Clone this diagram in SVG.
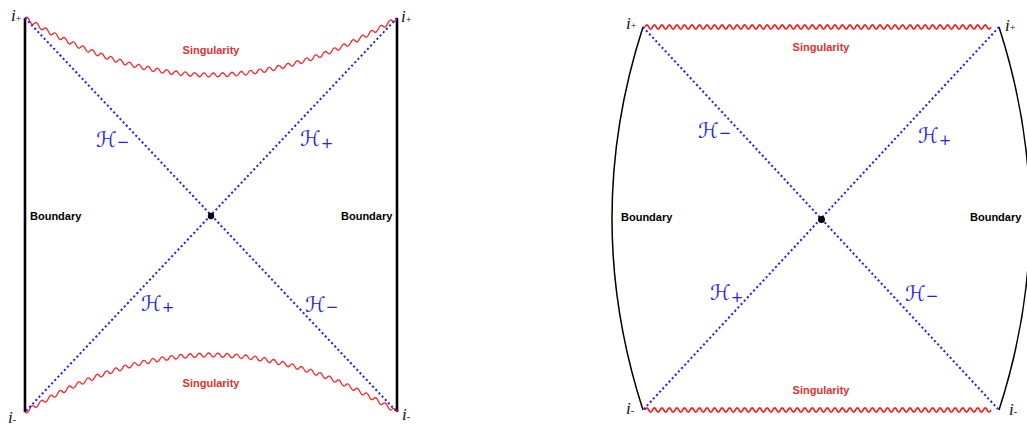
<svg xmlns="http://www.w3.org/2000/svg" xmlns:xlink="http://www.w3.org/1999/xlink" width="1027" height="425" viewBox="0 0 1027 425">
<style>
.bnd{stroke:#000;fill:none}
.hor{stroke:#1a1aff;stroke-width:2;stroke-dasharray:2 2.6;fill:none}
.sing1{stroke:#ff2424;stroke-width:1.3;fill:none}
.sing2{stroke:#ff1a1a;stroke-width:1.8;fill:none}
.stxt{font-family:"Liberation Sans",Arial,sans-serif;font-weight:bold;font-size:11px;fill:#e0312f;text-anchor:middle}
.btxt{font-family:"Liberation Sans",Arial,sans-serif;font-weight:bold;font-size:11px;fill:#000}
.ilab{font-family:"Liberation Serif","Times New Roman",serif;font-style:italic;font-size:17px;fill:#111}
.isub{font-style:normal;font-size:10px}
.hlab{font-family:"DejaVu Serif","DejaVu Sans",serif;font-style:italic;font-size:21px;fill:#2020ff}
.hsub{font-style:normal;font-size:15px}
</style>
<defs>
<path id="curvewave" class="sing1" d="M25,18 q2.33,-2.6 4.65,2.81 t4.65,2.74 t4.65,2.67 t4.65,2.60 t4.65,2.53 t4.65,2.46 t4.65,2.39 t4.65,2.32 t4.65,2.24 t4.65,2.17 t4.65,2.10 t4.65,2.03 t4.65,1.96 t4.65,1.89 t4.65,1.82 t4.65,1.75 t4.65,1.67 t4.65,1.60 t4.65,1.53 t4.65,1.46 t4.65,1.39 t4.65,1.32 t4.65,1.25 t4.65,1.18 t4.65,1.10 t4.65,1.03 t4.65,0.96 t4.65,0.89 t4.65,0.82 t4.65,0.75 t4.65,0.68 t4.65,0.61 t4.65,0.53 t4.65,0.46 t4.65,0.39 t4.65,0.32 t4.65,0.25 t4.65,0.18 t4.65,0.11 t4.65,0.04 t4.65,-0.04 t4.65,-0.11 t4.65,-0.18 t4.65,-0.25 t4.65,-0.32 t4.65,-0.39 t4.65,-0.46 t4.65,-0.53 t4.65,-0.61 t4.65,-0.68 t4.65,-0.75 t4.65,-0.82 t4.65,-0.89 t4.65,-0.96 t4.65,-1.03 t4.65,-1.10 t4.65,-1.18 t4.65,-1.25 t4.65,-1.32 t4.65,-1.39 t4.65,-1.46 t4.65,-1.53 t4.65,-1.60 t4.65,-1.67 t4.65,-1.75 t4.65,-1.82 t4.65,-1.89 t4.65,-1.96 t4.65,-2.03 t4.65,-2.10 t4.65,-2.17 t4.65,-2.24 t4.65,-2.32 t4.65,-2.39 t4.65,-2.46 t4.65,-2.53 t4.65,-2.60 t4.65,-2.67 t4.65,-2.74 t4.65,-2.81"/>
<path id="flatwave" class="sing2" d="M645,27 q1.88,-4.4 3.76,0 t3.76,0 t3.76,0 t3.76,0 t3.76,0 t3.76,0 t3.76,0 t3.76,0 t3.76,0 t3.76,0 t3.76,0 t3.76,0 t3.76,0 t3.76,0 t3.76,0 t3.76,0 t3.76,0 t3.76,0 t3.76,0 t3.76,0 t3.76,0 t3.76,0 t3.76,0 t3.76,0 t3.76,0 t3.76,0 t3.76,0 t3.76,0 t3.76,0 t3.76,0 t3.76,0 t3.76,0 t3.76,0 t3.76,0 t3.76,0 t3.76,0 t3.76,0 t3.76,0 t3.76,0 t3.76,0 t3.76,0 t3.76,0 t3.76,0 t3.76,0 t3.76,0 t3.76,0 t3.76,0 t3.76,0 t3.76,0 t3.76,0 t3.76,0 t3.76,0 t3.76,0 t3.76,0 t3.76,0 t3.76,0 t3.76,0 t3.76,0 t3.76,0 t3.76,0 t3.76,0 t3.76,0 t3.76,0 t3.76,0 t3.76,0 t3.76,0 t3.76,0 t3.76,0 t3.76,0 t3.76,0 t3.76,0 t3.76,0 t3.76,0 t3.76,0 t3.76,0 t3.76,0 t3.76,0 t3.76,0 t3.76,0 t3.76,0 t3.76,0 t3.76,0 t3.76,0 t3.76,0 t3.76,0 t3.76,0 t3.76,0 t3.76,0 t3.76,0 t3.76,0 t3.76,0 t3.76,0"/>
</defs>
<rect width="1027" height="425" fill="#fff"/>

<!-- Left diagram -->
<g id="left-diagram">
  <g id="left-boundaries">
    <line class="bnd" x1="25" y1="18" x2="25" y2="412" stroke-width="2.6"/>
    <line class="bnd" x1="397" y1="18" x2="397" y2="412" stroke-width="2.6"/>
  </g>
  <g id="left-singularities">
    <use xlink:href="#curvewave"/>
    <use xlink:href="#curvewave" transform="matrix(1 0 0 -1 0 430)"/>
  </g>
  <g id="left-horizons">
    <line class="hor" x1="25" y1="18" x2="397" y2="412"/>
    <line class="hor" x1="397" y1="18" x2="25" y2="412"/>
  </g>
  <circle id="left-center" cx="211" cy="216" r="3.2" fill="#000"/>
  <g id="left-labels">
    <text class="stxt" x="211" y="54">Singularity</text>
    <text class="stxt" x="211" y="387">Singularity</text>
    <text class="btxt" x="30" y="220">Boundary</text>
    <text class="btxt" x="341" y="220">Boundary</text>
    <text class="ilab" x="11" y="21">i<tspan class="isub" dy="1">+</tspan></text>
    <text class="ilab" x="401" y="22">i<tspan class="isub" dy="1">+</tspan></text>
    <text class="ilab" x="8" y="423">i<tspan class="isub">-</tspan></text>
    <text class="ilab" x="402" y="420">i<tspan class="isub">-</tspan></text>
    <text class="hlab" x="96" y="147">ℋ<tspan class="hsub">−</tspan></text>
    <text class="hlab" x="300" y="146">ℋ<tspan class="hsub" dy="2">+</tspan></text>
    <text class="hlab" x="141" y="311">ℋ<tspan class="hsub" dy="1">+</tspan></text>
    <text class="hlab" x="305" y="312">ℋ<tspan class="hsub">−</tspan></text>
  </g>
</g>

<!-- Right diagram -->
<g id="right-diagram">
  <g id="right-boundaries">
    <path class="bnd" stroke-width="1.5" d="M643,27 Q581,218.5 643,410"/>
    <path class="bnd" stroke-width="1.5" d="M999,27 Q1061,218.5 999,410"/>
  </g>
  <g id="right-singularities">
    <use xlink:href="#flatwave"/>
    <use xlink:href="#flatwave" transform="translate(0 383)"/>
  </g>
  <g id="right-horizons">
    <line class="hor" x1="643" y1="27" x2="999" y2="410"/>
    <line class="hor" x1="999" y1="27" x2="643" y2="410"/>
  </g>
  <circle id="right-center" cx="821.5" cy="219.5" r="3.5" fill="#000"/>
  <g id="right-labels">
    <text class="stxt" x="821" y="51">Singularity</text>
    <text class="stxt" x="821" y="394">Singularity</text>
    <text class="btxt" x="621" y="221">Boundary</text>
    <text class="btxt" x="970" y="221">Boundary</text>
    <text class="ilab" x="626" y="29">i<tspan class="isub">+</tspan></text>
    <text class="ilab" x="1005" y="31">i<tspan class="isub">+</tspan></text>
    <text class="ilab" x="626" y="414">i<tspan class="isub">-</tspan></text>
    <text class="ilab" x="1009" y="415">i<tspan class="isub">-</tspan></text>
    <text class="hlab" x="698" y="138">ℋ<tspan class="hsub">−</tspan></text>
    <text class="hlab" x="918" y="143">ℋ<tspan class="hsub" dy="2">+</tspan></text>
    <text class="hlab" x="710" y="300">ℋ<tspan class="hsub" dy="2">+</tspan></text>
    <text class="hlab" x="905" y="301">ℋ<tspan class="hsub">−</tspan></text>
  </g>
</g>
</svg>
